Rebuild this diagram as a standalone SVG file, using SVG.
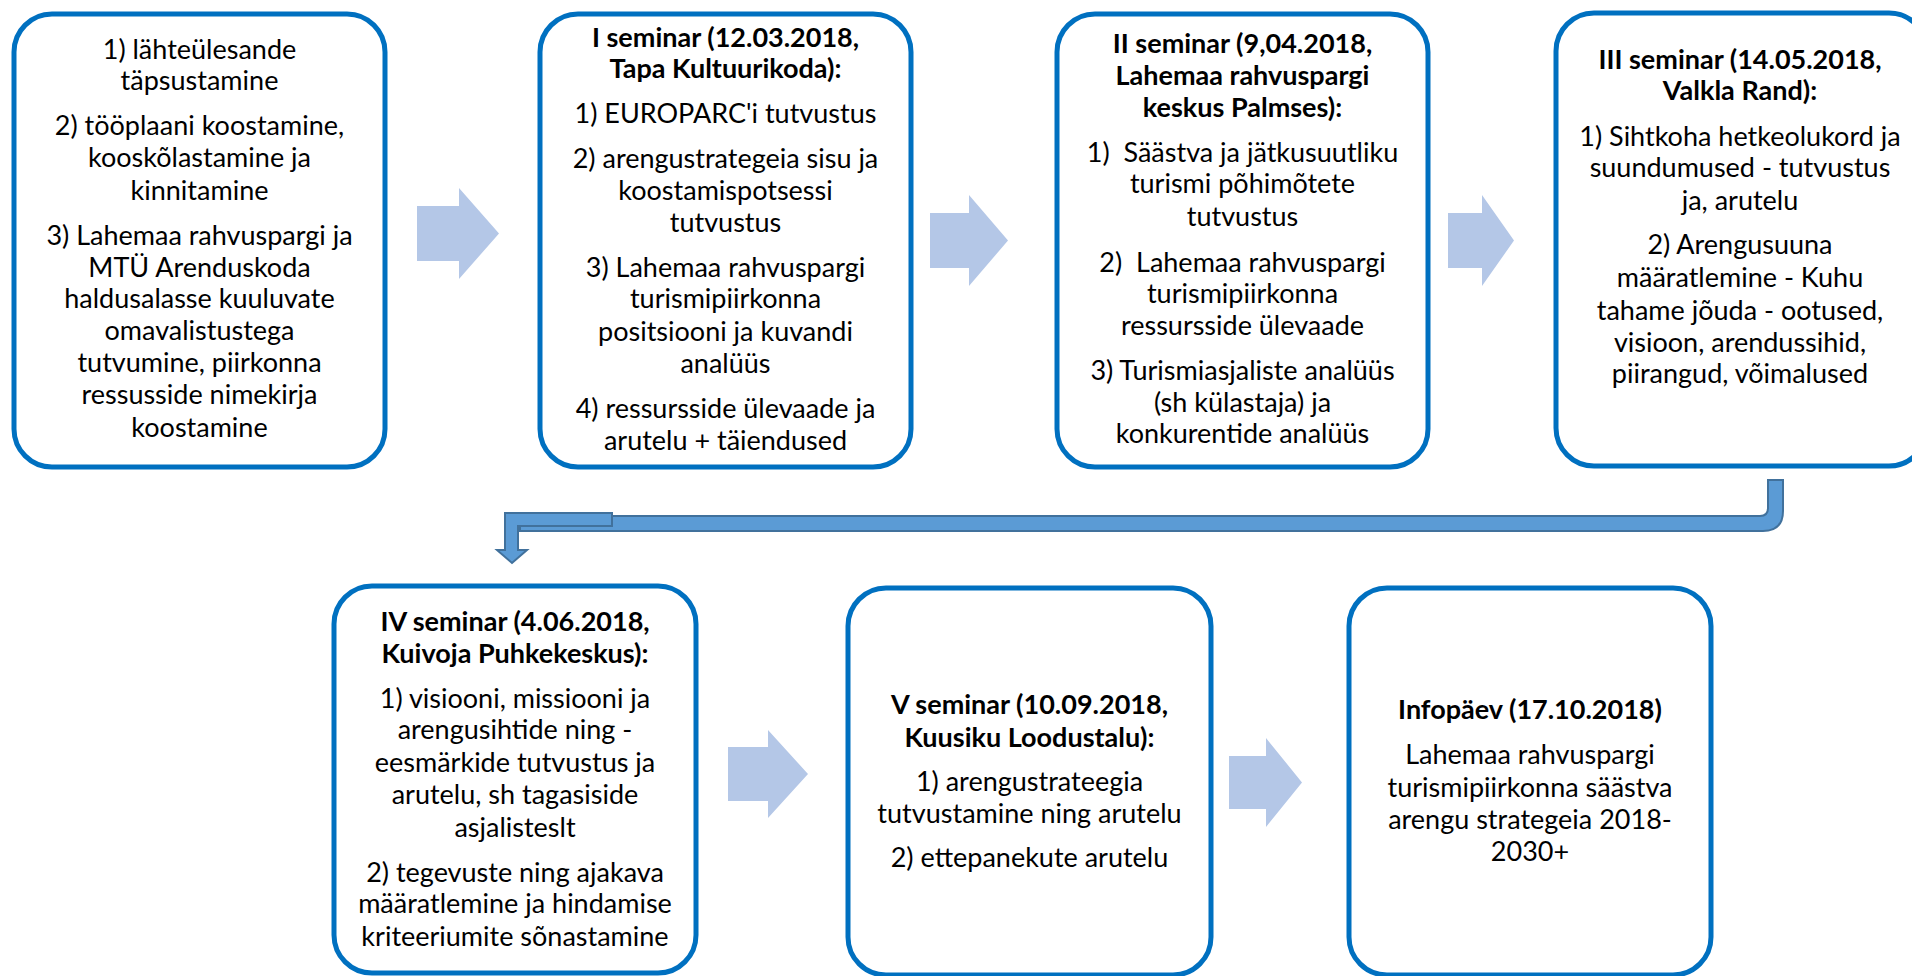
<svg xmlns="http://www.w3.org/2000/svg" width="1912" height="976" viewBox="0 0 1912 976">
<style>
.box{fill:#ffffff;stroke:#0070c0;stroke-width:5}
.t{font-family:Lato,"Liberation Sans",sans-serif;font-size:27px;fill:#000;text-anchor:middle}
.b{font-weight:bold}
.arr{fill:#b4c7e7}
.conn{fill:#5b9bd5;stroke:#41719c;stroke-width:2;stroke-linejoin:miter}
</style>
<rect width="1912" height="976" fill="#ffffff"/>
<g id="connectors">
<path class="arr" d="M417 206 H459 V188 L499 233.5 L459 279 V261 H417 Z"/>
<path class="arr" d="M930 213 H969 V195 L1008 240.5 L969 286 V268 H930 Z"/>
<path class="arr" d="M1448 213 H1482 V195 L1514 240.5 L1482 286 V268 H1448 Z"/>
<path class="arr" d="M728 747 H768 V730 L808 774 L768 818 V801 H728 Z"/>
<path class="arr" d="M1229 756 H1266 V738 L1302 782.5 L1266 827 V809 H1229 Z"/>
<path class="conn" d="M1768 480 H1783 V511 Q1783 531 1763 531 H520 V516 H1760 Q1768 516 1768 508 Z"/>
<path class="conn" d="M612 513 V526 H518 V550 H527 L512 563 L497 550 H505 V513 Z"/>
</g>
<g id="node1">
<rect class="box" x="14" y="14" width="371" height="453" rx="38"/>
<text class="t" x="199.5" y="59">1) lähteülesande</text>
<text class="t" x="199.5" y="90">täpsustamine</text>
<text class="t" x="199.5" y="135">2) tööplaani koostamine,</text>
<text class="t" x="199.5" y="167">kooskõlastamine ja</text>
<text class="t" x="199.5" y="200">kinnitamine</text>
<text class="t" x="199.5" y="245">3) Lahemaa rahvuspargi ja</text>
<text class="t" x="199.5" y="277">MTÜ Arenduskoda</text>
<text class="t" x="199.5" y="308">haldusalasse kuuluvate</text>
<text class="t" x="199.5" y="340">omavalistustega</text>
<text class="t" x="199.5" y="372">tutvumine, piirkonna</text>
<text class="t" x="199.5" y="404">ressusside nimekirja</text>
<text class="t" x="199.5" y="437">koostamine</text>
</g>
<g id="node2">
<rect class="box" x="540" y="14" width="371" height="453" rx="38"/>
<text class="t b" x="725.5" y="47">I seminar (12.03.2018,</text>
<text class="t b" x="725.5" y="78">Tapa Kultuurikoda):</text>
<text class="t" x="725.5" y="123">1) EUROPARC'i tutvustus</text>
<text class="t" x="725.5" y="168">2) arengustrategeia sisu ja</text>
<text class="t" x="725.5" y="200">koostamispotsessi</text>
<text class="t" x="725.5" y="232">tutvustus</text>
<text class="t" x="725.5" y="277">3) Lahemaa rahvuspargi</text>
<text class="t" x="725.5" y="308">turismipiirkonna</text>
<text class="t" x="725.5" y="341">positsiooni ja kuvandi</text>
<text class="t" x="725.5" y="373">analüüs</text>
<text class="t" x="725.5" y="418">4) ressursside ülevaade ja</text>
<text class="t" x="725.5" y="450">arutelu + täiendused</text>
</g>
<g id="node3">
<rect class="box" x="1057" y="14" width="371" height="453" rx="38"/>
<text class="t b" x="1242.5" y="53">II seminar (9,04.2018,</text>
<text class="t b" x="1242.5" y="85">Lahemaa rahvuspargi</text>
<text class="t b" x="1242.5" y="117">keskus Palmses):</text>
<text class="t" x="1242.5" y="162" xml:space="preserve">1)  Säästva ja jätkusuutliku</text>
<text class="t" x="1242.5" y="193">turismi põhimõtete</text>
<text class="t" x="1242.5" y="226">tutvustus</text>
<text class="t" x="1242.5" y="272" xml:space="preserve">2)  Lahemaa rahvuspargi</text>
<text class="t" x="1242.5" y="303">turismipiirkonna</text>
<text class="t" x="1242.5" y="335">ressursside ülevaade</text>
<text class="t" x="1242.5" y="380">3) Turismiasjaliste analüüs</text>
<text class="t" x="1242.5" y="412">(sh külastaja) ja</text>
<text class="t" x="1242.5" y="443">konkurentide analüüs</text>
</g>
<g id="node4">
<rect class="box" x="1556" y="13" width="371" height="453" rx="38"/>
<text class="t b" x="1740" y="69">III seminar (14.05.2018,</text>
<text class="t b" x="1740" y="100">Valkla Rand):</text>
<text class="t" x="1740" y="146">1) Sihtkoha hetkeolukord ja</text>
<text class="t" x="1740" y="177">suundumused - tutvustus</text>
<text class="t" x="1740" y="210">ja, arutelu</text>
<text class="t" x="1740" y="254">2) Arengusuuna</text>
<text class="t" x="1740" y="287">määratlemine - Kuhu</text>
<text class="t" x="1740" y="320">tahame jõuda - ootused,</text>
<text class="t" x="1740" y="352">visioon, arendussihid,</text>
<text class="t" x="1740" y="383">piirangud, võimalused</text>
</g>
<g id="node5">
<rect class="box" x="334" y="586" width="362" height="387" rx="38"/>
<text class="t b" x="515" y="631">IV seminar (4.06.2018,</text>
<text class="t b" x="515" y="663">Kuivoja Puhkekeskus):</text>
<text class="t" x="515" y="708">1) visiooni, missiooni ja</text>
<text class="t" x="515" y="739">arengusihtide ning -</text>
<text class="t" x="515" y="772">eesmärkide tutvustus ja</text>
<text class="t" x="515" y="804">arutelu, sh tagasiside</text>
<text class="t" x="515" y="837">asjalisteslt</text>
<text class="t" x="515" y="882">2) tegevuste ning ajakava</text>
<text class="t" x="515" y="913">määratlemine ja hindamise</text>
<text class="t" x="515" y="946">kriteeriumite sõnastamine</text>
</g>
<g id="node6">
<rect class="box" x="848" y="588" width="363" height="387" rx="38"/>
<text class="t b" x="1029.5" y="714">V seminar (10.09.2018,</text>
<text class="t b" x="1029.5" y="747">Kuusiku Loodustalu):</text>
<text class="t" x="1029.5" y="791">1) arengustrateegia</text>
<text class="t" x="1029.5" y="823">tutvustamine ning arutelu</text>
<text class="t" x="1029.5" y="867">2) ettepanekute arutelu</text>
</g>
<g id="node7">
<rect class="box" x="1349" y="588" width="362" height="387" rx="38"/>
<text class="t b" x="1530" y="719">Infopäev (17.10.2018)</text>
<text class="t" x="1530" y="764">Lahemaa rahvuspargi</text>
<text class="t" x="1530" y="797">turismipiirkonna säästva</text>
<text class="t" x="1530" y="829">arengu strategeia 2018-</text>
<text class="t" x="1530" y="861">2030+</text>
</g>
</svg>
